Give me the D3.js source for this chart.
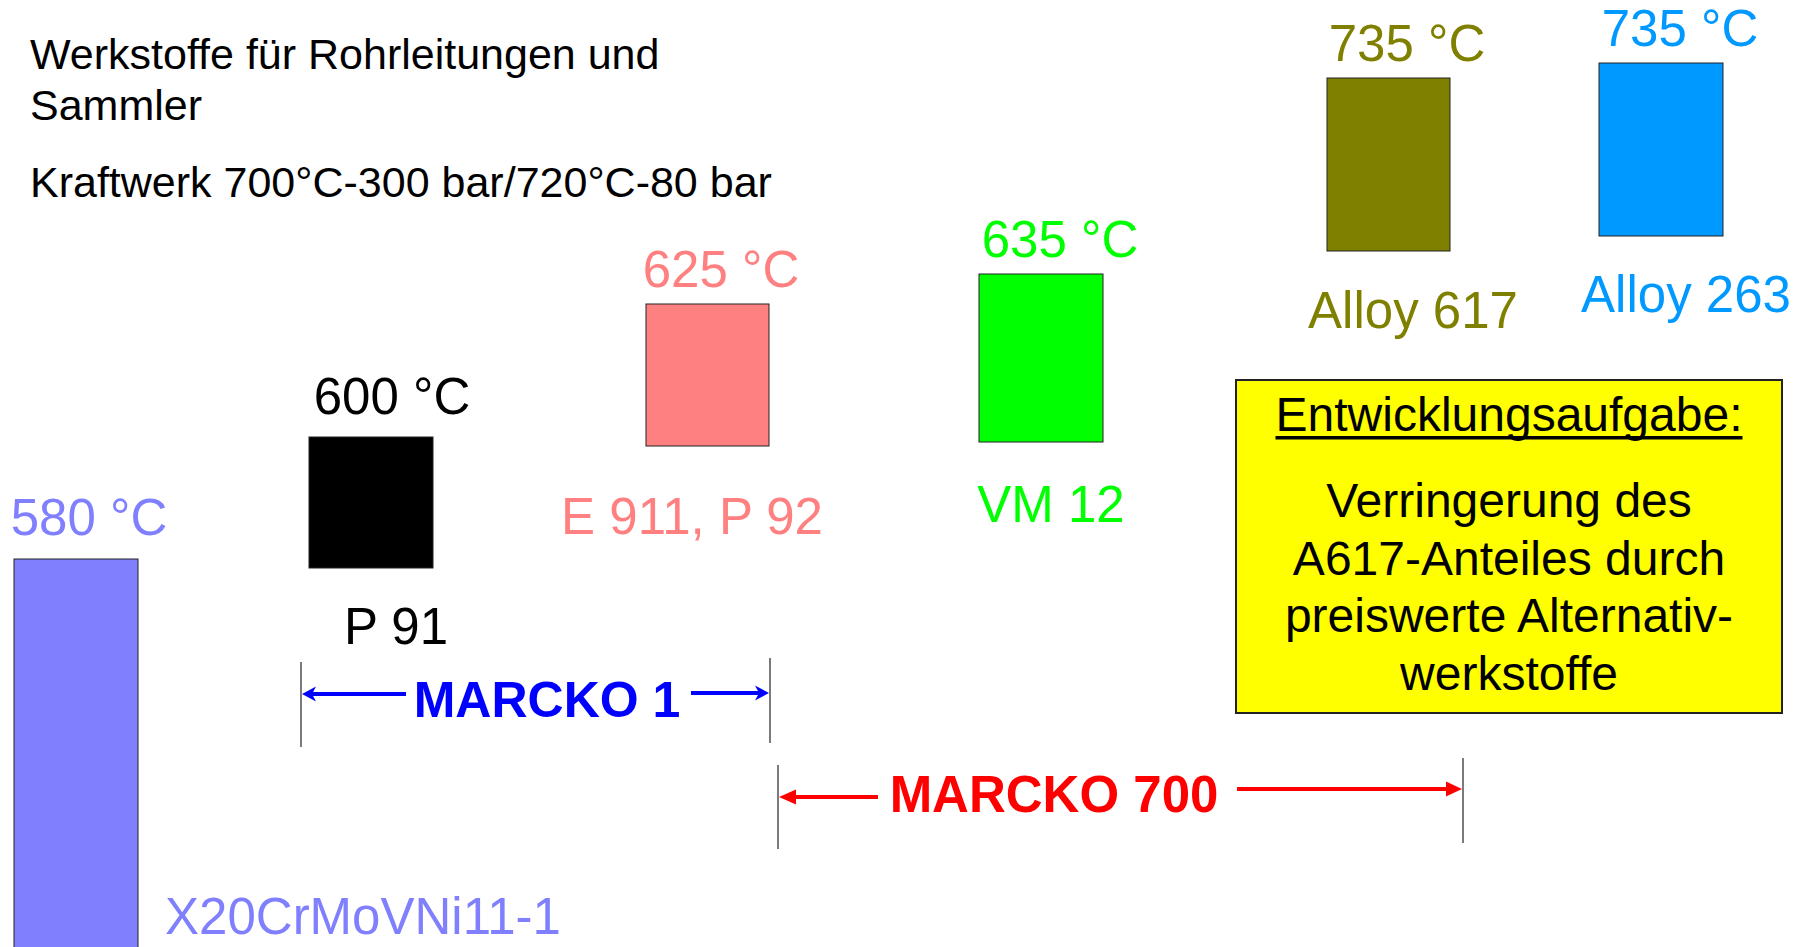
<!DOCTYPE html>
<html>
<head>
<meta charset="utf-8">
<script src="https://cdn.jsdelivr.net/npm/d3@7"></script>
<style>
  body { margin: 0; background: #fff; }
  svg { display: block; font-family: "Liberation Sans", Arial, sans-serif; }
</style>
</head>
<body>
<div id="chart"></div>
<script>
const width = 1800,
      height = 947;

// materials and their max. service temperature
const materials = ['X20CrMoVNi11-1', 'P 91', 'E 911, P 92', 'VM 12', 'Alloy 617', 'Alloy 263'];
const temperatures = [580, 600, 625, 635, 735, 735];
const colors = ['#8080FF', '#000000', '#FF8080', '#00FF00', '#808000', '#0099FF'];

const titleLines = ['Werkstoffe für Rohrleitungen und', 'Sammler', 'Kraftwerk 700°C-300 bar/720°C-80 bar'];
const projects = ['MARCKO 1', 'MARCKO 700'];
const projectColors = ['#0000FF', '#FF0000'];
const noteTitle = 'Entwicklungsaufgabe:';
const noteLines = ['Verringerung des', 'A617-Anteiles durch', 'preiswerte Alternativ-', 'werkstoffe'];

// layout of the slide (pixels)
const boxLayout = [
  {x: 14,   y: 559, w: 124, h: 400},
  {x: 309,  y: 437, w: 124, h: 131},
  {x: 646,  y: 304, w: 123, h: 142},
  {x: 979,  y: 274, w: 124, h: 168},
  {x: 1327, y: 78,  w: 123, h: 173},
  {x: 1599, y: 63,  w: 124, h: 173}
];
const tempLabelPos = [[89, 535], [392, 414], [721, 287], [1060, 257], [1407, 61], [1680, 46]];
const nameLabelPos = [[363, 934], [396, 644], [692, 534], [1051, 522], [1413, 328], [1686, 312]];
const titleBaselines = [69, 120, 197];
const projectLayout = [
  {x0: 301, x1: 770, yl: 694, yr: 693, tl: [662, 747], tr: [658, 743], sl: 406, sr: 691, tx: 547, ty: 717},
  {x0: 778, x1: 1463, yl: 797, yr: 789, tl: [765, 849], tr: [758, 843], sl: 878, sr: 1237, tx: 1054, ty: 812}
];
const note = {x: 1236, y: 380, w: 546, h: 333, titleY: 431, firstY: 517, lineH: 57.5};

const svg = d3.select('#chart').append('svg')
    .attr('width', width)
    .attr('height', height);

svg.append('rect')
    .attr('width', width)
    .attr('height', height)
    .attr('fill', '#fff');

// title
svg.append('g')
  .selectAll('text')
  .data(titleLines)
  .join('text')
    .attr('x', 30)
    .attr('y', (d, i) => titleBaselines[i])
    .attr('font-size', 43)
    .attr('fill', '#000')
    .text(d => d);

// material boxes
const mat = svg.append('g')
  .selectAll('g')
  .data(materials.map((name, i) => ({name, temp: temperatures[i], color: colors[i], box: boxLayout[i], i})))
  .join('g');

mat.append('rect')
    .attr('x', d => d.box.x)
    .attr('y', d => d.box.y)
    .attr('width', d => d.box.w)
    .attr('height', d => d.box.h)
    .attr('fill', d => d.color)
    .attr('stroke', '#222')
    .attr('stroke-width', 1);

mat.append('text')
    .attr('x', d => tempLabelPos[d.i][0])
    .attr('y', d => tempLabelPos[d.i][1])
    .attr('text-anchor', 'middle')
    .attr('font-size', 51)
    .attr('fill', d => d.color)
    .text(d => d.temp + ' °C');

mat.append('text')
    .attr('x', d => nameLabelPos[d.i][0])
    .attr('y', d => nameLabelPos[d.i][1])
    .attr('text-anchor', 'middle')
    .attr('font-size', 51)
    .attr('fill', d => d.color)
    .text(d => d.name);

// project ranges with arrows
const arrowHead = (tip, y, dir, len, half, notch) => {
  // dir = -1 points left, +1 points right
  const b = tip - dir * len;
  return `M${tip},${y} L${b},${y - half} L${b + dir * notch},${y} L${b},${y + half} Z`;
};

const proj = svg.append('g')
  .selectAll('g')
  .data(projects.map((name, i) => ({name, color: projectColors[i], p: projectLayout[i], i})))
  .join('g');

proj.append('line')
    .attr('x1', d => d.p.x0).attr('x2', d => d.p.x0)
    .attr('y1', d => d.p.tl[0]).attr('y2', d => d.p.tl[1])
    .attr('stroke', '#222').attr('stroke-width', 1.2);
proj.append('line')
    .attr('x1', d => d.p.x1).attr('x2', d => d.p.x1)
    .attr('y1', d => d.p.tr[0]).attr('y2', d => d.p.tr[1])
    .attr('stroke', '#222').attr('stroke-width', 1.2);

proj.append('line')
    .attr('x1', d => d.p.x0 + 10).attr('x2', d => d.p.sl)
    .attr('y1', d => d.p.yl).attr('y2', d => d.p.yl)
    .attr('stroke', d => d.color).attr('stroke-width', 4);
proj.append('line')
    .attr('x1', d => d.p.sr).attr('x2', d => d.p.x1 - 10)
    .attr('y1', d => d.p.yr).attr('y2', d => d.p.yr)
    .attr('stroke', d => d.color).attr('stroke-width', 4);

proj.append('path')
    .attr('d', d => arrowHead(d.p.x0 + 1, d.p.yl, -1, d.i == 0 ? 14 : 17, 7.5, d.i == 0 ? 4 : 0))
    .attr('fill', d => d.color);
proj.append('path')
    .attr('d', d => arrowHead(d.p.x1 - 1, d.p.yr, 1, d.i == 0 ? 14 : 16, 7.5, d.i == 0 ? 4 : 0))
    .attr('fill', d => d.color);

proj.append('text')
    .attr('x', d => d.p.tx)
    .attr('y', d => d.p.ty)
    .attr('text-anchor', 'middle')
    .attr('font-size', d => d.i == 0 ? 50 : 51)
    .attr('font-weight', 'bold')
    .attr('fill', d => d.color)
    .text(d => d.name);

// note box
const noteG = svg.append('g');
noteG.append('rect')
    .attr('x', note.x)
    .attr('y', note.y)
    .attr('width', note.w)
    .attr('height', note.h)
    .attr('fill', '#FFFF00')
    .attr('stroke', '#222')
    .attr('stroke-width', 2);

const cx = note.x + note.w / 2;
const head = noteG.append('text')
    .attr('x', cx)
    .attr('y', note.titleY)
    .attr('text-anchor', 'middle')
    .attr('font-size', 48)
    .attr('fill', '#000')
    .text(noteTitle);
const tw = head.node().getComputedTextLength();
noteG.append('rect')
    .attr('x', cx - tw / 2)
    .attr('y', note.titleY + 5)
    .attr('width', tw)
    .attr('height', 3.5)
    .attr('fill', '#000');

noteG.selectAll('text.line')
  .data(noteLines)
  .join('text')
    .attr('class', 'line')
    .attr('x', cx)
    .attr('y', (d, i) => note.firstY + i * note.lineH)
    .attr('text-anchor', 'middle')
    .attr('font-size', 48)
    .attr('fill', '#000')
    .text(d => d);
</script>
</body>
</html>
